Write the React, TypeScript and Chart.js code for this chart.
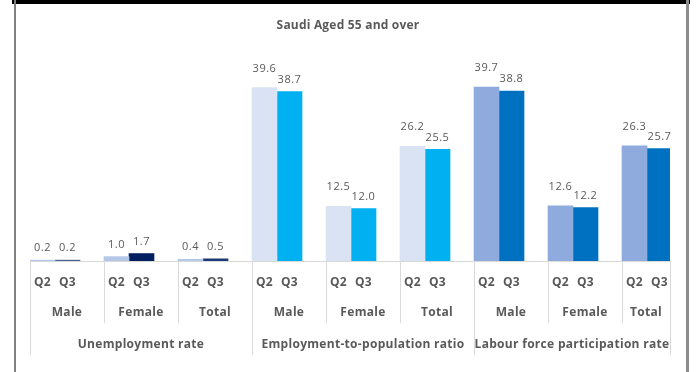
import React, { useEffect, useRef } from "react";
import { Chart, registerables } from "chart.js";

Chart.register(...registerables);

const chartTitle = "Saudi Aged 55 and over";
const groups = ["Unemployment rate", "Employment-to-population ratio", "Labour force participation rate"];
const subCategories = ["Male", "Female", "Total", "Male", "Female", "Total", "Male", "Female", "Total"];
const seriesLabels = ["Q2", "Q3"];
const q2Values = [0.2, 1.0, 0.4, 39.6, 12.5, 26.2, 39.7, 12.6, 26.3];
const q3Values = [0.2, 1.7, 0.5, 38.7, 12.0, 25.5, 38.8, 12.2, 25.7];
const q2Colors = ["#b4c7e7", "#b4c7e7", "#b4c7e7", "#dae3f3", "#dae3f3", "#dae3f3", "#8faadc", "#8faadc", "#8faadc"];
const q3Colors = ["#4a6290", "#002060", "#1f3a78", "#00b0f0", "#00b0f0", "#00b0f0", "#0070c0", "#0070c0", "#0070c0"];

const FONT = "'Open Sans', 'Noto Sans', sans-serif";
const TEXT = "#595959";
const GRID = "#d9d9d9";

const decorPlugin = {
  id: "decor",
  afterDatasetsDraw(chart: any) {
    const { ctx, chartArea } = chart;
    const xs = chart.scales.x;
    const bottom = chartArea.bottom;
    ctx.save();
    // frame
    ctx.fillStyle = "#000000";
    ctx.fillRect(12, 0, 678, 4);
    ctx.fillStyle = "#808080";
    ctx.fillRect(14, 0, 2, 372);
    ctx.fillStyle = "#8c8c8c";
    ctx.fillRect(686, 0, 3, 372);

    // title
    ctx.fillStyle = TEXT;
    ctx.font = `bold 12px ${FONT}`;
    (ctx as any).letterSpacing = "0.2px";
    ctx.textAlign = "center";
    ctx.textBaseline = "middle";
    ctx.fillText(chartTitle, 348, 26);

    // baseline
    ctx.strokeStyle = GRID;
    ctx.lineWidth = 1;
    ctx.beginPath();
    ctx.moveTo(chartArea.left, bottom + 0.5);
    ctx.lineTo(chartArea.right, bottom + 0.5);
    ctx.stroke();

    // separators
    const n = subCategories.length;
    for (let i = 0; i <= n; i++) {
      let px = i === n ? chartArea.right : xs.getPixelForValue(i);
      if (px > chartArea.right) px = chartArea.right;
      const isGroup = i % 3 === 0 || i === n;
      ctx.beginPath();
      ctx.moveTo(Math.round(px) + 0.5, bottom);
      ctx.lineTo(Math.round(px) + 0.5, bottom + (isGroup ? 94 : 62));
      ctx.stroke();
    }

    // Q labels
    const m0 = chart.getDatasetMeta(0);
    const m1 = chart.getDatasetMeta(1);
    ctx.fillStyle = TEXT;
    ctx.font = `bold 12px ${FONT}`;
    (ctx as any).letterSpacing = "0.3px";
    for (let i = 0; i < n; i++) {
      ctx.fillText(seriesLabels[0], m0.data[i].x, bottom + 22);
      ctx.fillText(seriesLabels[1], m1.data[i].x, bottom + 22);
      const l = xs.getPixelForValue(i);
      const r = Math.min(xs.getPixelForValue(i + 1), chartArea.right);
      ctx.fillText(subCategories[i], (l + r) / 2, bottom + 52);
    }
    for (let g = 0; g < groups.length; g++) {
      const l = xs.getPixelForValue(g * 3);
      const r = Math.min(xs.getPixelForValue(g * 3 + 3), chartArea.right);
      ctx.fillText(groups[g], (l + r) / 2, bottom + 84);
    }

    // value labels
    ctx.font = `11px ${FONT}`;
    (ctx as any).letterSpacing = "0.5px";
    for (let i = 0; i < n; i++) {
      const b0 = m0.data[i];
      const b1 = m1.data[i];
      const off0 = q2Values[i] >= 10 ? 19 : 12;
      ctx.fillText(q2Values[i].toFixed(1), b0.x, b0.y - off0);
      ctx.fillText(q3Values[i].toFixed(1), b1.x, b1.y - 12);
    }
    ctx.restore();
  },
};

export default function App() {
  const ref = useRef<HTMLCanvasElement | null>(null);
  useEffect(() => {
    document.body.style.margin = "0";
    const unit = 74;
    const barX = (i: number) => i + 25 / unit;
    const chart = new Chart(ref.current as HTMLCanvasElement, {
      type: "bar",
      data: {
        datasets: [
          {
            label: seriesLabels[0],
            data: q2Values.map((v, i) => ({ x: barX(i), y: v })),
            backgroundColor: q2Colors,
            barThickness: 25,
          },
          {
            label: seriesLabels[1],
            data: q3Values.map((v, i) => ({ x: barX(i), y: v })),
            backgroundColor: q3Colors,
            barThickness: 25,
          },
        ],
      },
      options: {
        animation: false,
        responsive: false,
        layout: { padding: { left: 30, right: 26, top: 64, bottom: 111 } },
        plugins: { legend: { display: false }, tooltip: { enabled: false }, title: { display: false } },
        scales: {
          x: { type: "linear", min: 0, max: 640 / unit, display: false, offset: false },
          y: { min: 0, max: 45, display: false },
        },
      },
      plugins: [decorPlugin],
    });
    return () => chart.destroy();
  }, []);
  return <canvas ref={ref} width={696} height={372} style={{ display: "block" }} />;
}
